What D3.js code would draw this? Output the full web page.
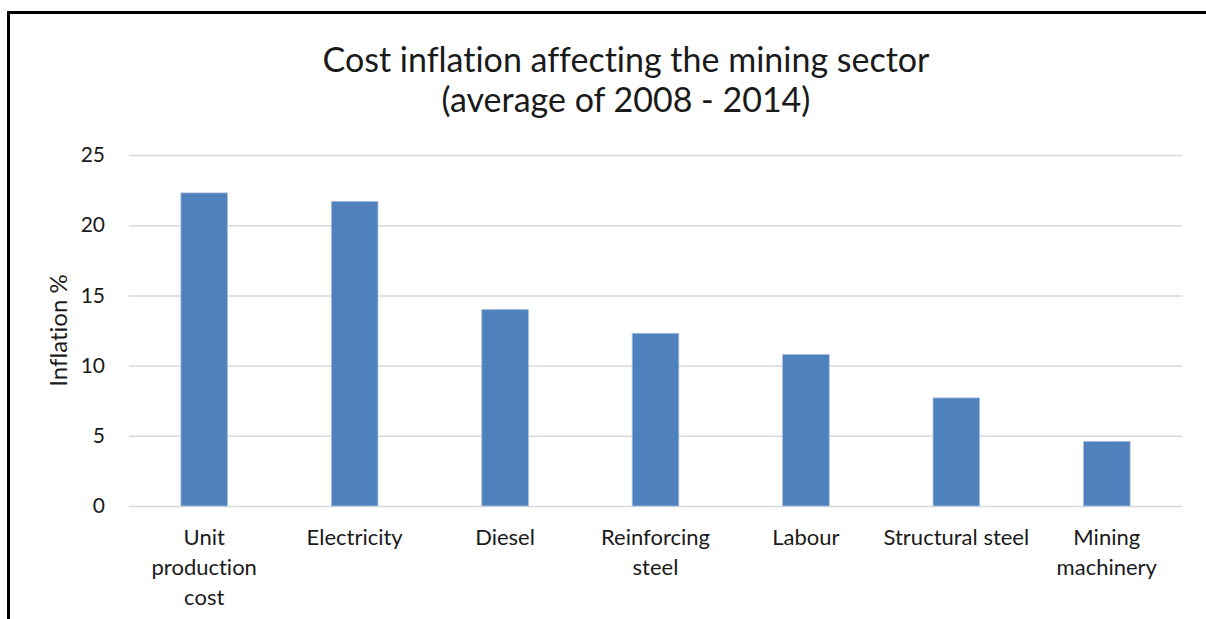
<!DOCTYPE html>
<html>
<head>
<meta charset="utf-8">
<script src="https://cdn.jsdelivr.net/npm/d3@7"></script>
<style>
  html, body { margin: 0; padding: 0; background: #fff; }
  svg { display: block; font-family: Lato, "Open Sans", sans-serif; font-variant-ligatures: none; }
</style>
</head>
<body>
<svg id="chart" width="1206" height="619"></svg>
<script>
// Average cost inflation per input, 2008 - 2014
const categories = [
  ["Unit", "production", "cost"],
  ["Electricity"],
  ["Diesel"],
  ["Reinforcing", "steel"],
  ["Labour"],
  ["Structural steel"],
  ["Mining", "machinery"]
];
const inflation = [22.3, 21.7, 14.0, 12.3, 10.8, 7.7, 4.6];
const yTicks = [0, 5, 10, 15, 20, 25];
const titleLines = ["Cost inflation affecting the mining sector", "(average of 2008 - 2014)"];
const yLabel = "Inflation %";

const svg = d3.select("#chart");
const W = 1206, H = 619;
const plot = { left: 129, right: 1182, top: 155, bottom: 506 };

svg.append("rect").attr("width", W).attr("height", H).attr("fill", "#fff");

// frame (top and left edges visible)
svg.append("path")
  .attr("d", `M8.5,${H} L8.5,12.5 L${W},12.5`)
  .attr("fill", "none").attr("stroke", "#000").attr("stroke-width", 3);

const keys = categories.map((c, i) => i);
const x = d3.scaleBand().domain(keys).range([plot.left, plot.right])
  .paddingInner(0.69).paddingOuter(0.345);
const y = d3.scaleLinear().domain([0, 25]).range([plot.bottom, plot.top]);

// gridlines
const yAxis = d3.axisLeft(y).tickValues(yTicks).tickSize(-(plot.right - plot.left)).tickPadding(24);
const gy = svg.append("g").attr("transform", `translate(${plot.left},0)`).call(yAxis);
gy.select(".domain").remove();
gy.selectAll(".tick line").attr("stroke", "#d9d9d9").attr("stroke-width", 1.5);
gy.selectAll(".tick text").attr("font-size", 21).attr("fill", "#1a1a1a")
  .attr("font-family", "Lato, 'Open Sans', sans-serif");

// bars
svg.append("g").selectAll("rect").data(inflation).join("rect")
  .attr("x", (d, i) => x(i))
  .attr("width", x.bandwidth())
  .attr("y", d => y(d))
  .attr("height", d => y(0) - y(d))
  .attr("fill", "#4f81bd")
  .attr("stroke", "#a9c0de").attr("stroke-width", 0.8);

// category labels
const gx = svg.append("g").attr("font-size", 22).attr("fill", "#1a1a1a").attr("text-anchor", "middle");
categories.forEach((lines, i) => {
  const t = gx.append("text").attr("x", x(i) + x.bandwidth() / 2).attr("y", 545);
  lines.forEach((ln, j) => t.append("tspan").attr("x", x(i) + x.bandwidth() / 2).attr("dy", j ? 30 : 0).text(ln));
});

// y axis title
svg.append("text")
  .attr("transform", `translate(67,${(plot.top + plot.bottom) / 2}) rotate(-90)`)
  .attr("text-anchor", "middle").attr("font-size", 24).attr("fill", "#1a1a1a")
  .text(yLabel);

// title
const tt = svg.append("text").attr("text-anchor", "middle").attr("font-size", 34).attr("fill", "#1a1a1a");
titleLines.forEach((ln, j) => tt.append("tspan").attr("x", 626).attr("y", 72 + j * 40).text(ln));
</script>
</body>
</html>
